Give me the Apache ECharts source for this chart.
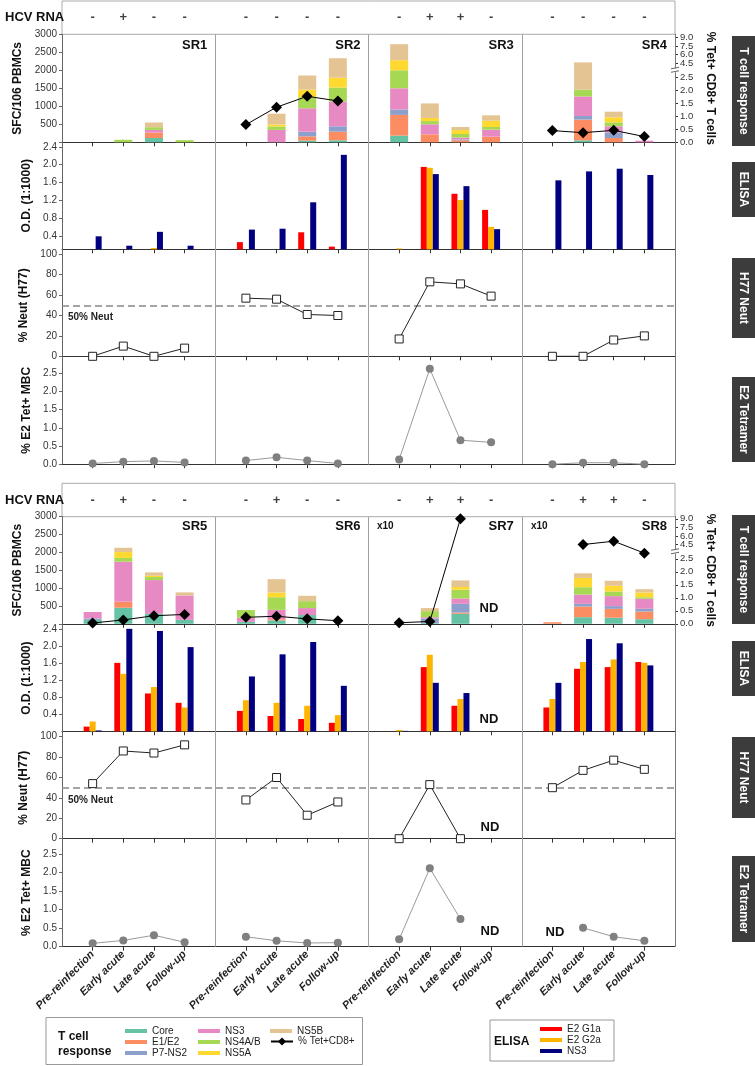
<!DOCTYPE html>
<html><head><meta charset="utf-8">
<script src="https://cdn.jsdelivr.net/npm/echarts@6/dist/echarts.min.js"></script>
<style>html,body{margin:0;padding:0;background:#fff}#c{width:755px;height:1066px}</style>
</head><body><div id="c"></div>
<script>
// ---------- DATA ----------
const timepoints = ['Pre-reinfection','Early acute','Late acute','Follow-up'];
const subjects = ['SR1','SR2','SR3','SR4','SR5','SR6','SR7','SR8'];
const hcvRna = ['-','+','-','-', '-','-','-','-', '-','+','+','-', '-','-','-','-',
                '-','+','-','-', '-','+','-','-', '-','+','+','-', '-','+','+','-'];
const antigenNames = ['Core','E1/E2','P7-NS2','NS3','NS4A/B','NS5A','NS5B'];
// SFC/10^6 PBMCs, 4 timepoints per subject, SR1..SR8
const core  = [0,0,120,0, 0,0,45,55, 185,0,0,0, 0,55,0,0, 110,450,280,110, 55,95,245,0, 0,20,280,0, 0,185,170,130];
const e1e2  = [0,0,150,0, 0,0,120,240, 575,220,55,155, 0,575,120,0, 0,170,0,0, 0,35,0,0, 0,0,35,0, 45,300,250,215];
const p7ns2 = [0,0,0,0, 0,0,130,150, 150,0,25,0, 0,100,150,0, 40,0,0,0, 0,0,0,0, 0,130,245,0, 0,75,75,75];
const ns3   = [0,0,75,0, 0,345,650,685, 590,280,50,195, 0,545,175,45, 180,1120,945,685, 115,260,195,0, 0,35,150,0, 0,260,280,280];
const ns4ab = [0,70,75,60, 0,95,305,390, 500,90,100,75, 0,185,110,0, 0,105,85,0, 215,355,195,0, 0,170,245,0, 0,205,130,45];
const ns5a  = [0,0,0,0, 0,55,215,275, 280,85,110,175, 0,0,140,0, 0,165,35,0, 0,130,0,0, 0,0,75,0, 0,260,160,130];
const ns5b  = [0,0,130,0, 0,300,390,540, 445,405,85,150, 0,760,155,0, 0,120,95,85, 0,375,150,0, 0,85,185,0, 0,130,140,95];
// % Tet+ CD8+ T cells
const tetCD8 = [null,null,null,null, 0.68,1.35,1.77,1.59, null,null,null,null, 0.45,0.37,0.46,0.22,
                0.03,0.15,0.31,0.36, 0.25,0.29,0.19,0.12, 0.04,0.09,9.0,null, null,4.52,5.1,3.3];
// ELISA O.D. (1:1000)
const elisaG1a = [null,null,null,null, 0.27,null,0.49,0.17, null,1.95,1.35,0.99, null,null,null,null,
                  0.11,1.61,0.89,0.67, 0.48,0.36,0.29,0.20, null,1.51,0.60,null, 0.56,1.47,1.51,1.63];
const elisaG2a = [null,null,0.14,null, null,null,null,null, 0.13,1.93,1.21,0.61, null,null,null,null,
                  0.23,1.35,1.04,0.56, 0.73,0.67,0.60,0.38, 0.03,1.80,0.76,null, 0.76,1.63,1.69,1.61];
const elisaNS3 = [0.40,0.19,0.50,0.19, 0.55,0.57,1.16,2.22, null,1.79,1.52,0.56, 1.65,1.85,1.91,1.77,
                  0.02,2.41,2.36,1.98, 1.29,1.81,2.10,1.07, 0.01,1.14,0.90,null, 1.14,2.17,2.07,1.55];
// % Neut (H77)
const neutH77 = [0,10,0,8, 57,56,41,40, 17,73,71,59, 0,0,16,20, 54,86,84,92, 38,60,23,36, 0,53,0,null, 50,67,77,68];
// % E2 Tet+ MBC
const tetMBC = [0.02,0.07,0.09,0.05, 0.10,0.19,0.10,0.02, 0.13,2.62,0.66,0.60, 0.00,0.04,0.04,0.00,
                0.09,0.17,0.31,0.12, 0.27,0.16,0.10,0.11, 0.20,2.12,0.75,null, null,0.51,0.27,0.16];
// tick labels
const sfcTicks = [500,1000,1500,2000,2500,3000];
const tetTicksA = [0,0.5,1,1.5,2,2.5,4.5,7.5];
const tetTicksB = [6,9];
const elisaTicks = [0.4,0.8,1.2,1.6,2.0,2.4];
const neutTicks = [0,20,40,60,80,100];
const mbcTicks = [0,0.5,1,1.5,2,2.5];

// ---------- HELPERS ----------
const antigenData = [core,e1e2,p7ns2,ns3,ns4ab,ns5a,ns5b];
const antigenColors = ['#66c2a5','#fc8d62','#8da0cb','#e78ac3','#a6d854','#ffd92f','#e5c494'];
const elisaNames = ['E2 G1a','E2 G2a','NS3 '];
const elisaData = [elisaG1a,elisaG2a,elisaNS3];
const elisaColors = ['#ff0000','#ffb400','#000080'];
const xCats = [''];
for (let p=0;p<4;p++){ xCats.push(...timepoints); xCats.push(''); }
function half(arr,h){ return arr.slice(h*16,h*16+16); }
function expand(a){ const out=new Array(21).fill(null); for(let p=0;p<4;p++)for(let c=0;c<4;c++) out[p*5+c+1]=a[p*4+c]; return out; }
// broken right axis (0-2.5 linear, then compressed 4.5-9.0)
function tetT(v){ if(v==null) return null; if(v<=2.5) return v; if(v<=4.5) return 2.5+(v-2.5)*0.2725; return 3.045+(v-4.5)*0.221; }
function tetLabel(ticks){ return v=>{const i=ticks.findIndex(t=>Math.abs(tetT(t)-v)<1e-6);return i>=0?ticks[i].toFixed(1):'';}; }

const FONT = '"Liberation Sans", Arial, sans-serif';
const L=62, R=80, PW=613/4;
const grids=[], xAxis=[], yAxis=[], series=[], graphic=[];
function addGrid(top,height,extra){ grids.push(Object.assign({left:L,right:R,top,height},extra||{})); return grids.length-1; }
function addX(gi,opts){ xAxis.push(Object.assign({gridIndex:gi,type:'category',data:xCats,boundaryGap:false,splitLine:{show:false}},opts)); return xAxis.length-1; }
function addY(gi,opts){ yAxis.push(Object.assign({gridIndex:gi,type:'value',splitLine:{show:false}},opts)); return yAxis.length-1; }
const rowX = {axisLine:{lineStyle:{color:'#333',width:1}}, axisTick:{show:true,interval:(i)=>i%5!==0,length:4,lineStyle:{color:'#333'}}, axisLabel:{show:false}};
const leftY = (name,extra)=>Object.assign({position:'left',name,nameLocation:'middle',nameGap:27,nameRotate:90,
  nameTextStyle:{fontFamily:FONT,fontWeight:'bold',fontSize:12,color:'#111'},
  axisLine:{show:true,lineStyle:{color:'#666'}},axisTick:{show:true,length:3,lineStyle:{color:'#666'}},
  axisLabel:{fontFamily:FONT,fontSize:10,color:'#333',margin:5}},extra);

const halves = [
  {h:0, hcv:[1,33.3], tc:[34.3,108], el:[142.3,107], ne:[254.3,102], tt:[356.3,107.9], elMin:0.11, ttMax:2.965, tMax:4.154, srY:45},
  {h:1, hcv:[483.3,33.4], tc:[516.7,107.1], el:[625,106.3], ne:[736.7,102], tt:[838.7,108], elMin:0, ttMax:2.92, tMax:4.12, srY:526}
];

halves.forEach(H=>{
  const h=H.h;
  // frame (panel dividers)
  const gF = addGrid(H.tc[0], H.tt[0]+H.tt[1]-H.tc[0]);
  const xF = addX(gF,{show:false}); const yF = addY(gF,{show:false,min:0,max:1});
  series.push({type:'line',xAxisIndex:xF,yAxisIndex:yF,data:new Array(21).fill(null),silent:true,z:1,
    markLine:{silent:true,symbol:'none',label:{show:false},animation:false,
      data:[{xAxis:0,lineStyle:{color:'#666',width:1,type:'solid'}},{xAxis:5},{xAxis:10},{xAxis:15},{xAxis:20,lineStyle:{color:'#777',width:1,type:'solid'}}],
      lineStyle:{color:'#a0a0a0',width:1,type:'solid'}}});

  // HCV RNA row
  const gH = addGrid(H.hcv[0],H.hcv[1],{show:true,borderColor:'#aaa',borderWidth:1,backgroundColor:'#fff'});
  const xH = addX(gH,{show:false}); const yH = addY(gH,{show:false,min:0,max:1});
  const hv = expand(half(hcvRna,h));
  series.push({type:'scatter',xAxisIndex:xH,yAxisIndex:yH,symbolSize:1,itemStyle:{color:'rgba(0,0,0,0)'},
    data:hv.map((s,i)=>s?{value:[i,0.5],name:s}:null),
    label:{show:true,position:'inside',formatter:'{b}',fontFamily:FONT,fontWeight:'bold',fontSize:13,color:'#111'}});

  // T cell response row
  const gT = addGrid(H.tc[0],H.tc[1]);
  const xT = addX(gT,rowX);
  const yTL = addY(gT,leftY('SFC/106 PBMCs',{min:0,max:3000,interval:500,axisLabel:{fontFamily:FONT,fontSize:10,color:'#333',margin:5,formatter:v=>sfcTicks.includes(v)?String(v):''}}));
  const tvA = tetTicksA.map(tetT), tvB = tetTicksB.map(tetT);
  const rLab = {fontFamily:FONT,fontSize:9.5,color:'#333',margin:5,hideOverlap:false};
  const yTR = addY(gT,{position:'right',min:0,max:H.tMax,name:'% Tet+ CD8+ T cells',nameLocation:'middle',nameGap:29,nameRotate:-90,
    nameTextStyle:{fontFamily:FONT,fontWeight:'bold',fontSize:12,color:'#111'},
    axisLine:{show:true,lineStyle:{color:'#333'}},
    axisTick:{show:true,length:3,customValues:tvA,lineStyle:{color:'#333'}},
    axisLabel:Object.assign({customValues:tvA,formatter:tetLabel(tetTicksA)},rLab)});
  addY(gT,{position:'right',offset:0,min:0,max:H.tMax,
    axisLine:{show:false},
    axisTick:{show:true,length:3,customValues:tvB,lineStyle:{color:'#333'}},
    axisLabel:Object.assign({customValues:tvB,formatter:tetLabel(tetTicksB)},rLab)});
  antigenData.forEach((arr,k)=>{
    series.push({type:'bar',name:antigenNames[k],xAxisIndex:xT,yAxisIndex:yTL,stack:'tc'+h,barWidth:18,
      itemStyle:{color:antigenColors[k]},data:expand(half(arr,h)).map(v=>v?v:null),z:2});
  });
  series.push({type:'line',name:'% Tet+CD8+',xAxisIndex:xT,yAxisIndex:yTR,data:expand(half(tetCD8,h)).map(tetT),
    symbol:'diamond',symbolSize:11,itemStyle:{color:'#000'},lineStyle:{color:'#000',width:1},z:5,clip:false});

  // ELISA row
  const gE = addGrid(H.el[0],H.el[1]);
  const xE = addX(gE,rowX);
  const yE = addY(gE,leftY('O.D. (1:1000)',{min:H.elMin,max:2.5,
    axisTick:{show:true,length:3,customValues:elisaTicks,lineStyle:{color:'#666'}},
    axisLabel:{fontFamily:FONT,fontSize:10,color:'#333',margin:5,customValues:elisaTicks,formatter:v=>v.toFixed(1)}}));
  elisaData.forEach((arr,k)=>{
    series.push({type:'bar',name:elisaNames[k],xAxisIndex:xE,yAxisIndex:yE,barWidth:6,barGap:'0%',
      itemStyle:{color:elisaColors[k]},data:expand(half(arr,h)),z:2});
  });

  // Neut row
  const gN = addGrid(H.ne[0],H.ne[1]);
  const xN = addX(gN,rowX);
  const yN = addY(gN,leftY('% Neut (H77)',{min:0,max:100,interval:20,axisLabel:{fontFamily:FONT,fontSize:10,color:'#333',margin:5,formatter:v=>neutTicks.includes(v)?String(v):''}}));
  series.push({type:'line',name:'Neut',xAxisIndex:xN,yAxisIndex:yN,data:expand(half(neutH77,h)),clip:false,z:5,
    symbol:'rect',symbolSize:8,itemStyle:{color:'#fff',borderColor:'#222',borderWidth:1},lineStyle:{color:'#222',width:1},
    markLine:{silent:true,symbol:'none',label:{show:false},data:[{yAxis:50}],lineStyle:{color:'#888',type:[7,4],width:1.5}}});

  // Tetramer row
  const gM = addGrid(H.tt[0],H.tt[1]);
  const xM = addX(gM, h===1 ? Object.assign({},rowX,{axisLabel:{show:true,interval:0,rotate:45,margin:6,fontFamily:FONT,fontSize:11,fontStyle:'italic',fontWeight:'bold',color:'#222'}}) : rowX);
  const yM = addY(gM,leftY('% E2 Tet+ MBC',{min:0,max:H.ttMax,
    axisTick:{show:true,length:3,customValues:mbcTicks,lineStyle:{color:'#666'}},
    axisLabel:{fontFamily:FONT,fontSize:10,color:'#333',margin:5,customValues:mbcTicks,formatter:v=>v.toFixed(1)}}));
  series.push({type:'line',name:'MBC',xAxisIndex:xM,yAxisIndex:yM,data:expand(half(tetMBC,h)),clip:false,z:5,
    symbol:'circle',symbolSize:8,itemStyle:{color:'#808080'},lineStyle:{color:'#9a9a9a',width:1}});

  // texts
  const hcvMid = H.hcv[0]+H.hcv[1]/2;
  graphic.push({type:'text',x:5,y:hcvMid,style:{text:'HCV RNA',font:'bold 13px '+FONT,fill:'#111',textVerticalAlign:'middle'}});
  for(let p=0;p<4;p++){
    graphic.push({type:'text',x:L+(p+1)*PW-8,y:H.srY,z:10,style:{text:subjects[h*4+p],font:'bold 13px '+FONT,fill:'#111',textAlign:'right',textVerticalAlign:'middle'}});
  }
  const neutY = H.ne[0] + H.ne[1]*0.6;
  graphic.push({type:'text',x:68,y:neutY+2,style:{text:'50% Neut',font:'bold 10px '+FONT,fill:'#222',textVerticalAlign:'middle'}});
  // break marks on right axis
  const brk = H.tc[0]+H.tc[1]*(1-2.77/H.tMax);
  graphic.push({type:'rect',shape:{x:671,y:brk-2,width:8,height:4},style:{fill:'#fff'},z:20});
  graphic.push({type:'line',shape:{x1:671,y1:brk-1.5,x2:679,y2:brk-3},style:{stroke:'#666',lineWidth:1},z:21});
  graphic.push({type:'line',shape:{x1:671,y1:brk+2,x2:679,y2:brk+0.5},style:{stroke:'#666',lineWidth:1},z:21});
});

// x10 and ND annotations
[['x10',377,526],['x10',531,526]].forEach(t=>graphic.push({type:'text',x:t[1],y:t[2],style:{text:t[0],font:'bold 10px '+FONT,fill:'#111',textVerticalAlign:'middle'}}));
[[489,608],[489,719],[490,827],[490,931],[555,932]].forEach(t=>graphic.push({type:'text',x:t[0],y:t[1],z:10,style:{text:'ND',font:'bold 13px '+FONT,fill:'#111',textAlign:'center',textVerticalAlign:'middle'}}));

// right-side dark label boxes
[['T cell response',36,110],['ELISA',162,55],['H77 Neut',258,80],['E2 Tetramer',377,85],
 ['T cell response',515,109],['ELISA',641,55],['H77 Neut',737,81],['E2 Tetramer',856,86]].forEach(b=>{
  graphic.push({type:'rect',shape:{x:732,y:b[1],width:23,height:b[2]},style:{fill:'#3c3c3c'}});
  graphic.push({type:'text',x:743.5,y:b[1]+b[2]/2,rotation:-Math.PI/2,style:{text:b[0],font:'bold 12px '+FONT,fill:'#fff',textAlign:'center',textVerticalAlign:'middle'}});
});

// legend frames and titles
graphic.push({type:'rect',shape:{x:46,y:1017.5,width:316.5,height:47},style:{fill:'none',stroke:'#999',lineWidth:1}});
graphic.push({type:'text',x:58,y:1037,style:{text:'T cell',font:'bold 12px '+FONT,fill:'#111',textVerticalAlign:'middle'}});
graphic.push({type:'text',x:58,y:1052,style:{text:'response',font:'bold 12px '+FONT,fill:'#111',textVerticalAlign:'middle'}});
graphic.push({type:'rect',shape:{x:490,y:1020,width:124,height:41},style:{fill:'none',stroke:'#999',lineWidth:1}});
graphic.push({type:'text',x:494,y:1042,style:{text:'ELISA',font:'bold 12px '+FONT,fill:'#111',textVerticalAlign:'middle'}});

const legText = {fontFamily:FONT,fontSize:10,lineHeight:10,color:'#222'};
const legBase = {orient:'vertical',itemWidth:22,itemHeight:4,itemGap:1,padding:0,selectedMode:false,textStyle:legText,itemStyle:{borderWidth:0}};
const rectItems = names=>names.map(n=>({name:n,icon:'rect'}));
const legend = [
  Object.assign({},legBase,{left:125,top:1026,data:rectItems(['Core','E1/E2','P7-NS2'])}),
  Object.assign({},legBase,{left:198,top:1026,data:rectItems(['NS3','NS4A/B','NS5A'])}),
  Object.assign({},legBase,{left:270,top:1026,data:rectItems(['NS5B'])}),
  Object.assign({},legBase,{left:270,top:1036.5,itemHeight:10,data:[{name:'% Tet+CD8+'}]}),
  Object.assign({},legBase,{left:540,top:1024,data:rectItems(elisaNames)})
];

const chart = echarts.init(document.getElementById('c'));
chart.setOption({animation:false,backgroundColor:'#fff',grid:grids,xAxis,yAxis,series,legend,graphic});
</script></body></html>
